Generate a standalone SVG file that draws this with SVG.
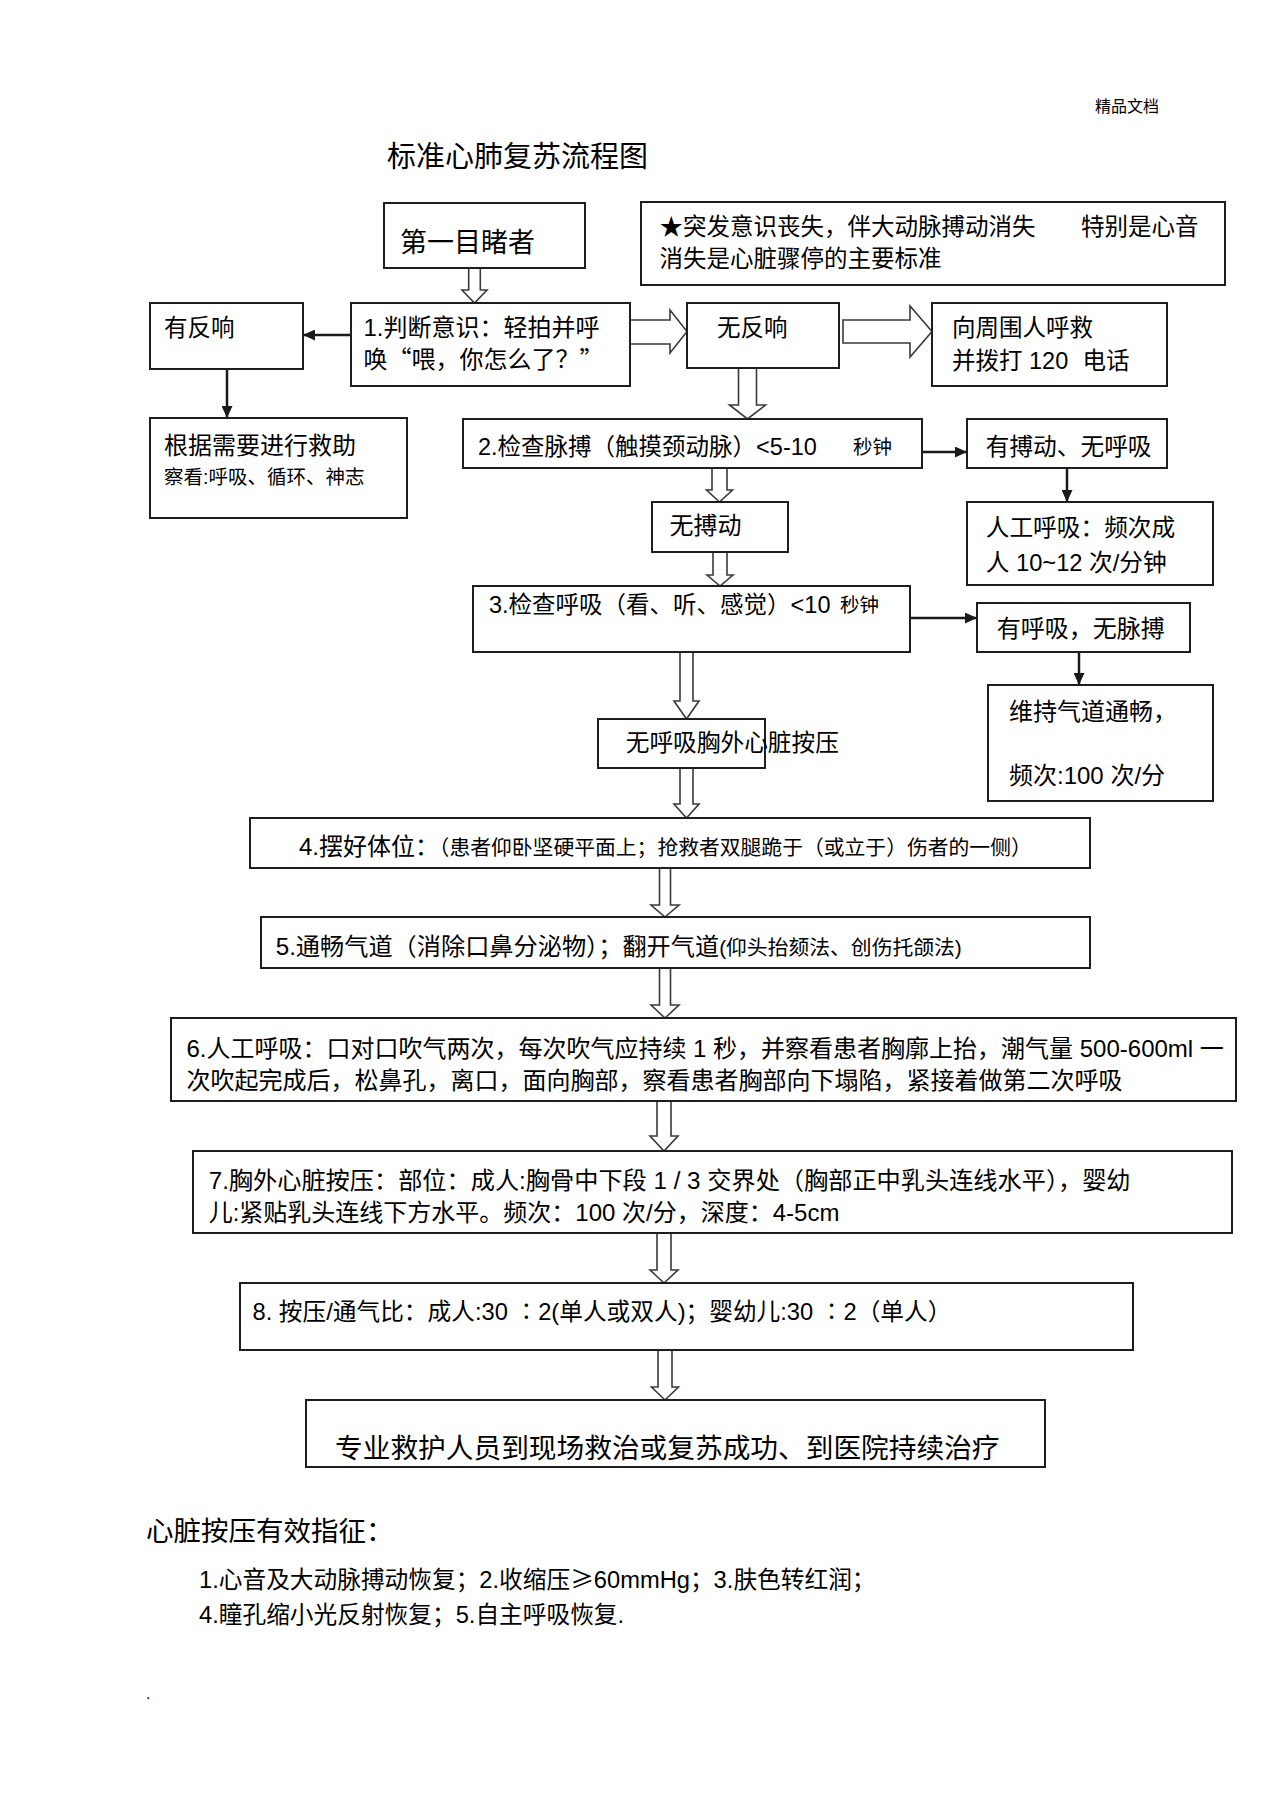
<svg xmlns="http://www.w3.org/2000/svg" width="1274" height="1804" viewBox="0 0 1274 1804">
<style>
text{font-family:"Liberation Sans","Noto Sans CJK SC",sans-serif;fill:#000;font-size:24px}
.cj{font-family:"Noto Sans CJK SC",sans-serif}
.box{fill:#fff;stroke:#1e1e1e;stroke-width:2}
.hol{fill:#fff;stroke:#3a3a3a;stroke-width:1.6;stroke-linejoin:miter}
.ln{stroke:#1a1a1a;stroke-width:2.5;fill:none}
.s{font-size:19.5px}
</style>
<defs>
<marker id="ah" viewBox="0 0 12 11" refX="12" refY="5.5" markerWidth="12" markerHeight="11" orient="auto" markerUnits="userSpaceOnUse"><path d="M0,0 L12,5.5 L0,11 Z" fill="#1a1a1a"/></marker>
</defs>
<rect width="1274" height="1804" fill="#fff"/>
<text x="1095" y="112" class="cj" style="font-size:16px">精品文档</text>
<text x="387" y="167" class="cj" style="font-size:29px">标准心肺复苏流程图</text>

<g id="connectors">
<path class="hol" d="M468.7,268 V290 H462 L474.5,303 L487,290 H480.3 V268 Z"/>
<path class="hol" d="M630,320 H670 V310 L687,331.5 L670,353 V344 H630 Z"/>
<path class="hol" d="M843,320 H910 V306 L932,331.5 L910,357 V343 H843 Z"/>
<path class="hol" d="M738.5,368 V405 H729.5 L747.5,419 L765.5,405 H756.5 V368 Z"/>
<path class="hol" d="M712,468 V490 H706.5 L719.5,502 L732.5,490 H727 V468 Z"/>
<path class="hol" d="M713,552 V575 H707 L720,586 L733,575 H727 V552 Z"/>
<path class="hol" d="M680,652 V701 H674 L686.5,719 L699,701 H693 V652 Z"/>
<path class="hol" d="M680,768 V804 H674 L686.5,818 L699,804 H693 V768 Z"/>
<path class="hol" d="M659.5,868 V905 H651 L665,917 L679,905 H670.5 V868 Z"/>
<path class="hol" d="M659.5,968 V1005 H651 L665,1018 L679,1005 H670.5 V968 Z"/>
<path class="hol" d="M657,1101 V1136 H650 L664,1151 L678,1136 H671 V1101 Z"/>
<path class="hol" d="M657,1233 V1270 H650 L664,1283 L678,1270 H671 V1233 Z"/>
<path class="hol" d="M658,1350 V1387 H651.5 L665,1400 L678.5,1387 H672 V1350 Z"/>
<line class="ln" x1="351" y1="335" x2="303" y2="335" marker-end="url(#ah)"/>
<line class="ln" x1="227" y1="369" x2="227" y2="418" marker-end="url(#ah)"/>
<line class="ln" x1="922" y1="452" x2="967" y2="452" marker-end="url(#ah)"/>
<line class="ln" x1="1067" y1="468" x2="1067" y2="502" marker-end="url(#ah)"/>
<line class="ln" x1="910" y1="618" x2="977" y2="618" marker-end="url(#ah)"/>
<line class="ln" x1="1079" y1="652" x2="1079" y2="685" marker-end="url(#ah)"/>
</g>

<g id="n0"><rect class="box" x="384" y="203" width="201" height="65"/><text x="400" y="252" style="font-size:27px">第一目睹者</text></g>
<g id="note"><rect class="box" x="641" y="202" width="584" height="83"/>
<text x="659.5" y="235" style="font-size:23.5px" class="cj">★突发意识丧失，伴大动脉搏动消失</text>
<text x="1081" y="235" style="font-size:23.5px">特别是心音</text>
<text x="659.5" y="267" style="font-size:23.5px">消失是心脏骤停的主要标准</text></g>
<g id="n1"><rect class="box" x="351" y="303" width="279" height="83"/>
<text x="363.4" y="336">1.判断意识：轻拍并呼</text>
<text x="363.4" y="368" class="cj">唤“喂，你怎么了？”</text></g>
<g id="yes"><rect class="box" x="150" y="303" width="153" height="66"/><text x="164" y="336" style="font-size:23.5px">有反响</text></g>
<g id="no"><rect class="box" x="687" y="303" width="152" height="65"/><text x="717" y="336" style="font-size:23.5px">无反响</text></g>
<g id="call"><rect class="box" x="932" y="303" width="235" height="83"/>
<text x="952" y="336" style="font-size:23.5px">向周围人呼救</text>
<text y="369" style="font-size:23.5px"><tspan x="952">并拨打</tspan><tspan x="1029">120</tspan><tspan x="1082.6">电话</tspan></text></g>
<g id="help"><rect class="box" x="150" y="418" width="257" height="100"/>
<text x="164" y="453.5">根据需要进行救助</text>
<text x="164" y="483.5" class="s">察看:呼吸、循环、神志</text></g>
<g id="n2"><rect class="box" x="463" y="419" width="459" height="49"/>
<text x="478" y="455" style="font-size:23.5px">2.检查脉搏（触摸颈动脉）&lt;5-10</text>
<text x="853" y="454" class="s">秒钟</text></g>
<g id="pulse"><rect class="box" x="967" y="419" width="200" height="49"/><text x="985.7" y="455" style="font-size:23.7px">有搏动、无呼吸</text></g>
<g id="rescue"><rect class="box" x="967" y="502" width="246" height="83"/>
<text x="985.7" y="536" style="font-size:23.7px">人工呼吸：频次成</text>
<text x="985.7" y="571" style="font-size:23.7px">人 10~12 次/分钟</text></g>
<g id="nopulse"><rect class="box" x="652" y="502" width="136" height="50"/><text x="669.4" y="534">无搏动</text></g>
<g id="n3"><rect class="box" x="473" y="586" width="437" height="66"/>
<text x="489" y="613" style="font-size:23.5px">3.检查呼吸（看、听、感觉）&lt;10</text>
<text x="840" y="612" class="s">秒钟</text></g>
<g id="breath"><rect class="box" x="977" y="603" width="213" height="49"/><text x="996.7" y="637">有呼吸，无脉搏</text></g>
<g id="airway"><rect class="box" x="988" y="685" width="225" height="116"/>
<text x="1009" y="720">维持气道通畅，</text>
<text x="1009" y="784">频次:100 次/分</text></g>
<g id="cpr"><rect class="box" x="598" y="719" width="167" height="49"/><text x="625.7" y="751" style="font-size:23.7px">无呼吸胸外心脏按压</text></g>
<g id="n4"><rect class="box" x="250" y="818" width="840" height="50"/>
<text x="299" y="855">4.摆好体位：<tspan style="font-size:20.8px">（患者仰卧坚硬平面上；抢救者双腿跪于（或立于）伤者的一侧）</tspan></text></g>
<g id="n5"><rect class="box" x="261" y="917" width="829" height="51"/>
<text x="275.7" y="955" style="font-size:24.2px">5.通畅气道（消除口鼻分泌物）；翻开气道<tspan style="font-size:20.8px">(仰头抬颏法、创伤托颌法)</tspan></text></g>
<g id="n6"><rect class="box" x="171" y="1018" width="1065" height="83"/>
<text x="186.4" y="1057">6.人工呼吸：口对口吹气两次，每次吹气应持续 1 秒，并察看患者胸廓上抬，潮气量 500-600ml 一</text>
<text x="186.4" y="1088.5">次吹起完成后，松鼻孔，离口，面向胸部，察看患者胸部向下塌陷，紧接着做第二次呼吸</text></g>
<g id="n7"><rect class="box" x="193" y="1151" width="1039" height="82"/>
<text x="208.7" y="1189" style="font-size:24.2px">7.胸外心脏按压：部位：成人:胸骨中下段 1 / 3 交界处（胸部正中乳头连线水平），婴幼</text>
<text x="208.7" y="1221">儿:紧贴乳头连线下方水平。频次：100 次/分，深度：4-5cm</text></g>
<g id="n8"><rect class="box" x="240" y="1283" width="893" height="67"/>
<text x="252.5" y="1320" style="font-size:23.7px">8. 按压/通气比：成人:30 <tspan class="cj">∶</tspan>2(单人或双人)；婴幼儿:30 <tspan class="cj">∶</tspan>2（单人）</text></g>
<g id="final"><rect class="box" x="306" y="1400" width="739" height="67"/>
<text x="335" y="1458" class="cj" style="font-size:27.7px">专业救护人员到现场救治或复苏成功、到医院持续治疗</text></g>

<g id="footer">
<text x="146" y="1541" style="font-size:27.5px">心脏按压有效指征：</text>
<text x="199" y="1588" style="font-size:23.7px">1.心音及大动脉搏动恢复；2.收缩压<tspan class="cj">≥</tspan>60mmHg；3.肤色转红润；</text>
<text x="199" y="1623" style="font-size:23.7px">4.瞳孔缩小光反射恢复；5.自主呼吸恢复.</text>
<text x="146" y="1699" style="font-size:16px">.</text>
</g>
</svg>
